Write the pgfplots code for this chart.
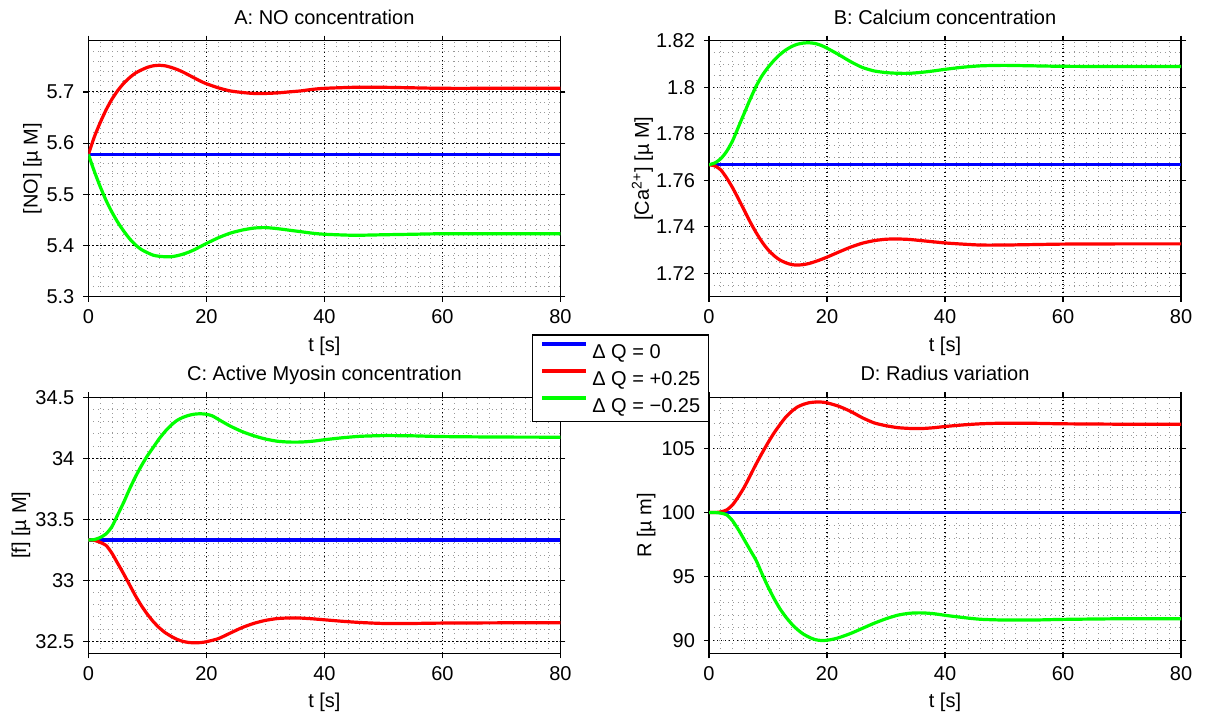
\documentclass[border=0pt]{standalone}
\usepackage{fontspec}
\setmainfont{Liberation Sans}
\usepackage{pgfplots}
\pgfplotsset{compat=1.18}

\definecolor{mblue}{RGB}{0,0,255}
\definecolor{mred}{RGB}{255,0,0}
\definecolor{mgreen}{RGB}{0,255,0}

\pgfplotsset{
  panel/.style={
    scale only axis, width=236pt, height=128pt, anchor=south west,
    xmin=0, xmax=80, xtick={0,20,...,80}, minor xtick={2,4,...,78},
    grid=both,
    major grid style={black, line width=0.55pt, dash pattern=on 0.55pt off 1.45pt},
    minor grid style={gray!80, line width=0.4pt, dash pattern=on 0.4pt off 2pt},
    axis line style={line width=0.6pt},
    tick align=outside, major tick length=2.5pt, minor tick length=0pt,
    every tick/.style={black, line width=0.6pt},
    /pgf/number format/assume math mode=true,
    font=\fontsize{10}{12}\selectfont,
    tick label style={font=\fontsize{10}{12}\selectfont},
    title style={at={(axis description cs:0.5,1.0652)}, anchor=base, yshift=-6pt},
    xlabel style={at={(axis description cs:0.5,-0.213)}, anchor=base},
    xticklabel style={anchor=base, yshift=-11pt},
    yticklabel style={xshift=-1pt},
    xlabel={t [s]},
    every axis plot/.append style={line width=1.6pt, smooth, tension=0.4},
  }
}

\begin{document}
\begin{tikzpicture}[x=1pt,y=1pt]
\useasboundingbox (0,0) rectangle (602.5,-357);

% A: NO
\begin{axis}[panel, at={(44.2pt,-148.35pt)},
  title={A: NO concentration},
  ymin=5.3, ymax=5.8, ytick={5.3,5.4,5.5,5.6,5.7},
  minor ytick={5.32,5.34,...,5.79},
  ylabel={[NO] [µ M]},
  ylabel style={at={(axis description cs:-0.1185,0.5)}, anchor=center}]
\addplot[mblue] coordinates {(0,5.578)(80,5.578)};
\addplot[mred] coordinates {
(0,5.578)(1,5.612)(2,5.640)(3,5.665)(4,5.686)(5,5.703)(6,5.717)(7,5.728)
(8,5.737)(9,5.743)(10,5.748)(11,5.751)(12,5.752)(13,5.751)(14,5.748)
(15,5.744)(16,5.739)(17,5.733)(18,5.727)(19,5.721)(20,5.716)(22,5.708)
(24,5.702)(26,5.699)(28,5.697)(30,5.697)(32,5.698)(34,5.700)(36,5.702)
(38,5.705)(40,5.707)(45,5.709)(50,5.709)(55,5.708)(60,5.707)(70,5.707)(80,5.707)};
\addplot[mgreen] coordinates {
(0,5.578)(1,5.545)(2,5.515)(3,5.488)(4,5.465)(5,5.445)(6,5.428)(7,5.413)
(8,5.401)(9,5.392)(10,5.386)(11,5.381)(12,5.379)(13,5.378)(14,5.378)
(15,5.380)(16,5.383)(17,5.387)(18,5.392)(19,5.398)(20,5.404)(22,5.415)
(24,5.424)(26,5.430)(28,5.434)(30,5.435)(32,5.433)(34,5.430)(36,5.427)
(38,5.424)(40,5.422)(45,5.420)(50,5.421)(55,5.422)(60,5.423)(70,5.423)(80,5.423)};
\end{axis}

% B: Calcium
\begin{axis}[panel, at={(354.5pt,-148.35pt)},
  title={B: Calcium concentration},
  ymin=1.71, ymax=1.82, ytick={1.72,1.74,1.76,1.78,1.8,1.82},
  minor ytick={1.715,1.72,...,1.8175},
  ylabel={[Ca\textsuperscript{2+}] [µ M]},
  ylabel style={at={(axis description cs:-0.141,0.5)}, anchor=center}]
\addplot[mblue] coordinates {(0,1.7667)(80,1.7667)};
\addplot[mred] coordinates {
(0,1.7667)(1,1.7662)(2,1.7645)(3,1.7610)(4,1.7568)(5,1.7520)(6,1.7470)
(7,1.7420)(8,1.7375)(9,1.7335)(10,1.7302)(11,1.7277)(12,1.7258)(13,1.7246)
(14,1.7238)(15,1.7236)(16,1.7238)(17,1.7243)(18,1.7251)(19,1.7260)(20,1.7270)
(22,1.7292)(24,1.7313)(26,1.7330)(28,1.7341)(30,1.7347)(32,1.7348)(34,1.7346)
(36,1.7341)(38,1.7336)(40,1.7331)(43,1.7326)(46,1.7322)(50,1.7322)(55,1.7324)
(60,1.7326)(70,1.7327)(80,1.7327)};
\addplot[mgreen] coordinates {
(0,1.7667)(1,1.7675)(2,1.7693)(3,1.7725)(4,1.7770)(5,1.7830)(6,1.7890)
(7,1.7950)(8,1.8005)(9,1.8050)(10,1.8085)(11,1.8115)(12,1.8140)(13,1.8160)
(14,1.8175)(15,1.8185)(16,1.8190)(17,1.8191)(18,1.8188)(19,1.8180)(20,1.8168)
(22,1.8140)(24,1.8110)(26,1.8085)(28,1.8070)(30,1.8063)(32,1.8060)(34,1.8060)
(36,1.8064)(38,1.8070)(40,1.8077)(43,1.8086)(46,1.8092)(50,1.8094)(55,1.8092)
(60,1.8090)(70,1.8089)(80,1.8089)};
\end{axis}

% C: Active Myosin
\begin{axis}[panel, at={(44.2pt,-326.65pt)},
  title={C: Active Myosin concentration},
  ymin=32.4, ymax=34.5, ytick={32.5,33,33.5,34,34.5},
  minor ytick={32.4,32.5,...,34.45},
  ylabel={[f] [µ M]},
  ylabel style={at={(axis description cs:-0.143,0.5)}, anchor=center}]
\addplot[mblue] coordinates {(0,33.33)(80,33.33)};
\addplot[mred] coordinates {
(0,33.33)(1,33.327)(2,33.31)(3,33.285)(4,33.22)(5,33.135)(6,33.05)(7,32.96)
(8,32.87)(9,32.79)(10,32.72)(11,32.66)(12,32.61)(13,32.57)(14,32.54)
(15,32.515)(16,32.498)(17,32.489)(18,32.486)(19,32.488)(20,32.495)(22,32.52)
(24,32.565)(26,32.61)(28,32.645)(30,32.67)(32,32.685)(34,32.69)(36,32.689)
(38,32.683)(40,32.675)(43,32.663)(46,32.653)(50,32.645)(55,32.645)(60,32.648)
(70,32.65)(80,32.65)};
\addplot[mgreen] coordinates {
(0,33.33)(1,33.333)(2,33.35)(3,33.38)(4,33.44)(5,33.54)(6,33.64)(7,33.75)
(8,33.85)(9,33.94)(10,34.02)(11,34.09)(12,34.16)(13,34.22)(14,34.27)
(15,34.31)(16,34.335)(17,34.352)(18,34.362)(19,34.365)(20,34.361)(21,34.348)
(22,34.32)(24,34.265)(26,34.22)(28,34.185)(30,34.158)(32,34.14)(34,34.133)
(36,34.133)(38,34.14)(40,34.152)(43,34.168)(46,34.18)(50,34.186)(55,34.184)
(60,34.178)(70,34.174)(80,34.173)};
\end{axis}

% D: Radius
\begin{axis}[panel, at={(354.5pt,-326.65pt)},
  title={D: Radius variation},
  ymin=89, ymax=109, ytick={90,95,100,105},
  minor ytick={89,90,...,109},
  ylabel={R [µ m]},
  ylabel style={at={(axis description cs:-0.133,0.5)}, anchor=center},
  legend style={at={(axis description cs:-0.3756,1.2461)}, anchor=north west,
    draw=black, line width=0.6pt, fill=white,
    font=\fontsize{10}{12}\selectfont,
    nodes={inner sep=0pt, text height=8.5pt, text depth=0.8pt},
    row sep=4.2pt, column sep=2.5pt, inner xsep=4.2pt, inner ysep=3.45pt},
  legend cell align=left,
  legend image code/.code={\draw[#1, line width=1.6pt] (0pt,3.6pt) -- (21.7pt,3.6pt);}]
\addplot[mblue] coordinates {(0,100)(80,100)};
\addlegendentry{Δ Q = 0}
\addplot[mred] coordinates {
(0,100)(1,100)(2,100.05)(3,100.2)(4,100.6)(5,101.25)(6,102.0)(7,102.9)
(8,103.8)(9,104.65)(10,105.45)(11,106.2)(12,106.85)(13,107.45)(14,107.9)
(15,108.25)(16,108.45)(17,108.58)(18,108.63)(19,108.63)(20,108.57)(22,108.3)
(24,107.9)(26,107.4)(28,107.0)(30,106.78)(32,106.63)(34,106.57)(36,106.56)
(38,106.62)(40,106.72)(43,106.84)(46,106.93)(50,106.98)(55,106.97)(60,106.93)
(70,106.9)(80,106.9)};
\addlegendentry{Δ Q = +0.25}
\addplot[mgreen] coordinates {
(0,100)(1,100)(2,99.95)(3,99.82)(4,99.35)(5,98.65)(6,97.85)(7,97.05)
(8,96.25)(9,95.2)(10,94.2)(11,93.3)(12,92.5)(13,91.85)(14,91.3)(15,90.85)
(16,90.5)(17,90.25)(18,90.07)(19,90.0)(20,90.02)(21,90.1)(22,90.22)(24,90.55)
(26,90.95)(28,91.35)(30,91.7)(32,91.98)(34,92.13)(36,92.16)(38,92.1)
(40,91.97)(43,91.8)(46,91.66)(50,91.6)(55,91.6)(60,91.65)(70,91.7)(80,91.7)};
\addlegendentry{Δ Q = −0.25}
\end{axis}
\end{tikzpicture}
\end{document}
